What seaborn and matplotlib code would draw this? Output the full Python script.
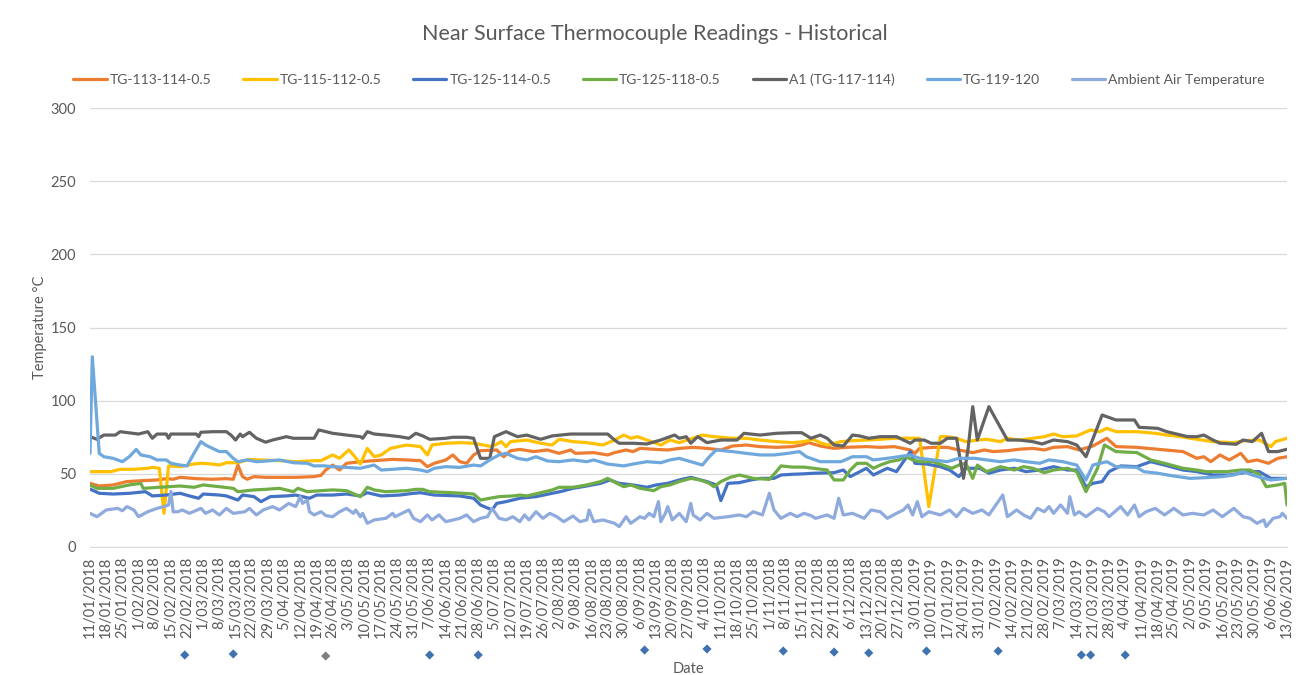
import matplotlib
matplotlib.use("Agg")
import matplotlib.pyplot as plt
import pandas as pd
import seaborn as sns

start_date = pd.Timestamp("2018-01-11")
end_date = pd.Timestamp("2019-06-13")

series_names = ["TG-113-114-0.5", "TG-115-112-0.5", "TG-125-114-0.5", "TG-125-118-0.5",
                "A1 (TG-117-114)", "TG-119-120", "Ambient Air Temperature"]
series_colors = ["#ED7D31", "#FFC000", "#4472C4", "#70AD47", "#636363", "#6FA8DC", "#8FAADC"]

# (days since 11/01/2018, temperature degC)
tg_113_114 = [(0, 43.5), (4, 41.7), (10, 42.4), (16, 44.7), (22, 45.3), (29, 45.8), (33, 46.7), (36, 46.3),
              (39, 47.6), (46, 46.7), (53, 46.3), (59, 46.7), (62, 46.3), (64, 56.0), (66, 48.1), (68, 46.3),
              (71, 48.1), (76, 47.6), (82, 47.6), (89, 47.6), (97, 48.1), (100, 49.0), (102, 52.6), (105, 56.0),
              (108, 52.6), (111, 57.2), (117, 58.3), (123, 59.0), (131, 59.9), (137, 59.5), (143, 59.0),
              (146, 54.9), (149, 57.2), (154, 59.5), (157, 62.9), (160, 58.3), (163, 57.2), (166, 62.9),
              (169, 65.8), (176, 66.3), (179, 61.7), (182, 65.8), (186, 66.7), (192, 65.2), (198, 66.3),
              (203, 64.0), (208, 66.3), (210, 64.0), (218, 64.5), (224, 62.9), (227, 64.5), (232, 66.3),
              (235, 65.2), (238, 67.4), (244, 66.8), (250, 66.3), (255, 67.4), (261, 68.1), (267, 67.4),
              (273, 66.3), (278, 69.0), (284, 69.7), (290, 68.6), (297, 68.1), (304, 68.6), (308, 69.7),
              (311, 71.3), (316, 69.0), (322, 67.4), (327, 68.1), (336, 68.6), (342, 68.1), (348, 68.6),
              (355, 66.3), (357, 64.0), (359, 67.4), (365, 68.1), (371, 68.1), (376, 66.3), (382, 64.5),
              (387, 66.3), (391, 65.2), (397, 65.8), (402, 66.8), (408, 67.4), (413, 66.3), (417, 68.1),
              (423, 68.6), (428, 66.3), (434, 69.0), (440, 74.3), (444, 68.6), (453, 68.1), (462, 66.8),
              (473, 65.2), (479, 60.6), (482, 61.7), (485, 58.3), (489, 62.9), (493, 59.5), (498, 64.0),
              (501, 58.3), (505, 59.5), (510, 57.2), (514, 60.6), (518, 61.7)]

tg_115_112 = [(0, 51.5), (9, 51.5), (13, 53.1), (19, 53.1), (25, 53.8), (27, 54.4), (30, 53.8), (32, 23.0),
              (34, 55.4), (39, 54.9), (45, 56.7), (48, 57.2), (53, 56.7), (56, 56.0), (59, 57.6), (64, 57.6),
              (69, 59.9), (73, 59.5), (82, 59.0), (89, 58.3), (97, 59.0), (100, 59.0), (102, 60.6), (105, 62.9),
              (108, 60.6), (112, 66.3), (114, 62.9), (117, 56.7), (120, 67.4), (123, 61.7), (126, 62.9),
              (130, 67.4), (137, 69.7), (143, 68.6), (146, 62.9), (148, 69.7), (154, 70.9), (160, 71.3),
              (166, 70.9), (174, 68.6), (178, 72.0), (180, 68.6), (182, 72.0), (189, 73.1), (195, 70.9),
              (200, 69.7), (203, 73.6), (209, 72.0), (215, 71.3), (222, 69.7), (227, 73.1), (231, 76.5),
              (234, 74.3), (237, 75.4), (241, 73.1), (247, 69.7), (251, 73.1), (255, 71.3), (265, 76.5),
              (270, 75.4), (278, 74.3), (284, 74.3), (290, 73.1), (297, 72.0), (304, 71.3), (309, 72.0),
              (313, 73.6), (316, 71.3), (319, 69.7), (325, 72.0), (330, 72.7), (336, 73.1), (342, 73.6),
              (348, 74.3), (353, 74.3), (359, 74.3), (363, 27.6), (368, 75.4), (371, 75.4), (375, 74.3),
              (379, 72.0), (384, 73.1), (388, 73.6), (394, 72.0), (397, 74.3), (402, 73.1), (408, 74.3),
              (413, 75.4), (417, 77.2), (421, 75.4), (427, 75.9), (433, 80.0), (437, 78.8), (440, 81.1),
              (444, 78.8), (453, 78.8), (461, 77.7), (466, 76.5), (472, 75.4), (479, 73.6), (486, 72.0),
              (495, 71.3), (500, 72.7), (506, 73.1), (511, 68.6), (513, 72.0), (518, 74.3)]

tg_125_114 = [(0, 39.6), (4, 36.7), (10, 36.2), (17, 36.7), (24, 37.8), (27, 34.9), (33, 35.5), (39, 36.7),
              (43, 34.9), (47, 33.3), (49, 36.2), (56, 35.5), (59, 34.9), (64, 32.1), (66, 35.5), (71, 34.4),
              (74, 31.0), (78, 34.4), (85, 34.9), (89, 35.5), (95, 33.3), (98, 35.5), (105, 35.5), (111, 36.2),
              (117, 34.9), (120, 37.1), (126, 34.9), (134, 35.5), (140, 36.7), (143, 37.1), (149, 35.5),
              (160, 34.9), (166, 33.3), (169, 28.7), (174, 25.3), (176, 29.8), (180, 31.0), (186, 33.3),
              (193, 34.4), (200, 36.7), (204, 38.0), (209, 40.1), (215, 41.7), (221, 43.5), (225, 45.8),
              (229, 43.5), (235, 42.4), (241, 40.8), (245, 42.4), (250, 43.5), (255, 45.8), (260, 47.6),
              (267, 44.7), (271, 42.4), (273, 31.7), (276, 43.5), (281, 44.0), (286, 45.8), (290, 46.9),
              (296, 46.9), (299, 49.2), (304, 49.7), (309, 50.0), (313, 50.4), (322, 50.8), (326, 52.6),
              (329, 48.1), (336, 53.8), (339, 49.2), (345, 53.8), (349, 51.5), (355, 65.2), (357, 57.2),
              (362, 56.7), (368, 54.9), (372, 52.6), (376, 48.1), (379, 53.8), (385, 53.8), (389, 50.4),
              (394, 52.6), (400, 53.8), (405, 51.5), (411, 52.6), (417, 54.9), (423, 52.6), (427, 52.6),
              (431, 41.2), (434, 43.5), (438, 44.7), (441, 51.5), (446, 55.4), (453, 54.9), (459, 58.3),
              (465, 56.0), (473, 52.6), (479, 51.5), (486, 49.2), (493, 49.2), (498, 50.4), (502, 51.5),
              (506, 51.5), (511, 46.9), (518, 46.9)]

tg_125_118 = [(0, 42.4), (3, 40.1), (10, 40.1), (17, 42.4), (22, 43.5), (23, 40.1), (30, 40.8), (39, 41.7),
              (45, 40.8), (49, 42.4), (56, 41.2), (62, 40.1), (64, 37.8), (71, 39.0), (76, 39.4), (82, 40.1),
              (88, 37.8), (90, 40.1), (94, 37.8), (100, 38.5), (105, 39.0), (111, 38.5), (117, 34.4),
              (120, 40.8), (123, 39.0), (128, 37.8), (137, 38.5), (141, 39.4), (144, 39.4), (147, 37.8),
              (157, 37.1), (166, 36.2), (169, 32.1), (173, 33.3), (177, 34.4), (183, 34.9), (186, 35.5),
              (189, 34.9), (194, 36.7), (200, 39.0), (203, 40.8), (209, 40.8), (215, 42.4), (221, 44.7),
              (224, 46.9), (228, 43.5), (231, 41.2), (234, 42.4), (238, 40.1), (244, 38.5), (247, 41.2),
              (251, 42.4), (255, 44.7), (260, 46.9), (264, 45.8), (268, 43.5), (270, 41.2), (273, 44.7),
              (277, 47.6), (281, 49.2), (287, 46.9), (294, 46.2), (297, 51.5), (299, 55.4), (304, 54.6),
              (309, 54.6), (313, 53.8), (319, 52.6), (322, 45.8), (326, 45.8), (329, 52.6), (332, 57.2),
              (336, 57.2), (339, 53.8), (342, 56.0), (346, 58.3), (350, 59.5), (353, 61.7), (356, 59.5),
              (359, 58.3), (365, 58.3), (369, 56.0), (373, 53.8), (376, 56.0), (379, 57.2), (382, 46.9),
              (384, 56.0), (388, 51.5), (394, 54.9), (400, 52.6), (404, 54.9), (408, 53.8), (413, 50.8),
              (417, 52.6), (423, 53.8), (427, 51.5), (431, 37.8), (436, 53.8), (439, 69.7), (444, 65.2),
              (453, 64.5), (459, 59.5), (465, 57.2), (473, 53.8), (479, 52.6), (483, 51.5), (492, 51.5),
              (498, 52.6), (502, 52.6), (506, 49.7), (509, 41.2), (514, 42.4), (517, 43.5), (518, 28.7)]

a1_117_114 = [(0, 75.4), (3, 73.6), (6, 76.5), (11, 76.5), (13, 78.8), (21, 77.2), (25, 78.8), (27, 74.3),
              (29, 77.2), (33, 77.2), (34, 74.3), (35, 77.2), (46, 77.2), (47, 75.4), (48, 78.4), (53, 78.8),
              (59, 78.8), (61, 76.5), (63, 73.1), (65, 77.2), (66, 75.4), (69, 78.4), (72, 74.3), (76, 71.6),
              (79, 73.1), (85, 75.4), (88, 74.3), (97, 74.3), (99, 80.0), (105, 77.7), (111, 76.5), (117, 75.4),
              (118, 74.3), (120, 78.8), (123, 77.2), (128, 76.5), (134, 75.4), (138, 74.3), (141, 77.7),
              (144, 75.9), (147, 73.6), (154, 74.3), (157, 75.0), (163, 75.0), (166, 74.3), (169, 60.6),
              (173, 60.6), (175, 75.4), (180, 78.8), (185, 75.4), (189, 76.5), (195, 73.6), (200, 75.9),
              (208, 77.2), (215, 77.2), (224, 77.2), (227, 73.1), (229, 70.9), (235, 70.9), (241, 70.4),
              (247, 73.1), (251, 75.4), (253, 76.5), (255, 74.3), (258, 75.4), (260, 70.9), (263, 75.4),
              (267, 71.3), (273, 73.1), (280, 73.1), (283, 77.7), (290, 76.5), (297, 77.7), (304, 78.1),
              (308, 78.1), (312, 74.3), (316, 76.5), (319, 74.3), (322, 69.7), (326, 69.0), (330, 76.5),
              (333, 75.9), (337, 74.3), (342, 75.4), (349, 75.4), (352, 73.1), (355, 70.9), (357, 73.1),
              (361, 73.1), (364, 70.9), (368, 70.9), (371, 74.3), (375, 74.3), (378, 46.9), (380, 67.4),
              (382, 95.9), (384, 73.1), (389, 95.9), (397, 73.1), (402, 73.1), (408, 72.0), (412, 70.4),
              (417, 73.1), (423, 72.0), (427, 69.7), (431, 61.7), (438, 90.2), (444, 86.8), (452, 86.8),
              (454, 81.8), (462, 81.1), (466, 78.8), (475, 75.4), (479, 75.4), (482, 76.5), (486, 73.1),
              (489, 70.9), (496, 70.2), (499, 73.1), (503, 72.0), (507, 77.7), (510, 65.2), (514, 65.2),
              (518, 66.8)]

tg_119_120 = [(0, 64.0), (1, 130.0), (4, 64.0), (6, 61.7), (10, 60.6), (14, 58.3), (17, 61.7), (20, 66.7),
              (22, 62.9), (26, 61.7), (29, 59.5), (33, 59.5), (35, 57.2), (39, 56.0), (42, 55.4), (45, 64.0),
              (48, 72.0), (50, 69.7), (53, 67.4), (56, 65.2), (59, 65.2), (62, 60.6), (64, 58.3), (68, 59.5),
              (72, 58.3), (76, 58.7), (82, 59.5), (88, 57.6), (94, 57.2), (97, 55.4), (101, 55.5), (105, 54.9),
              (111, 54.4), (117, 53.8), (123, 56.0), (126, 52.6), (131, 53.1), (137, 53.8), (143, 52.6),
              (146, 51.5), (149, 53.8), (154, 54.9), (160, 54.4), (166, 56.0), (169, 55.4), (173, 59.5),
              (177, 62.9), (180, 64.0), (185, 60.6), (189, 59.5), (193, 61.7), (198, 58.8), (203, 58.3),
              (209, 59.5), (215, 58.3), (218, 59.5), (224, 56.7), (231, 55.4), (235, 56.7), (241, 58.3),
              (247, 57.6), (251, 59.5), (255, 60.6), (260, 58.3), (265, 56.0), (268, 61.7), (271, 66.3),
              (278, 65.2), (284, 64.0), (290, 62.9), (296, 62.9), (302, 64.0), (307, 65.2), (310, 61.7),
              (316, 58.3), (325, 58.3), (330, 61.7), (336, 61.7), (339, 59.5), (345, 60.6), (350, 61.7),
              (355, 62.9), (359, 60.6), (365, 59.5), (371, 58.3), (376, 60.6), (383, 60.6), (388, 59.5),
              (394, 58.3), (400, 59.5), (405, 58.3), (411, 57.2), (415, 59.5), (421, 58.3), (427, 56.0),
              (431, 45.8), (434, 56.0), (440, 58.3), (444, 54.9), (453, 54.4), (456, 51.5), (462, 50.4),
              (469, 48.5), (476, 46.9), (483, 47.4), (490, 48.1), (495, 49.2), (499, 51.5), (503, 49.2),
              (508, 46.9), (511, 45.8), (518, 46.9)]

ambient_air = [(0, 23.0), (3, 20.7), (7, 25.3), (12, 26.4), (14, 24.8), (16, 27.6), (19, 25.3), (21, 20.7),
               (25, 24.1), (29, 26.4), (32, 27.6), (34, 28.7), (35, 38.0), (36, 24.0), (38, 24.1), (40, 25.3),
               (43, 23.0), (48, 26.4), (50, 23.0), (53, 25.3), (56, 21.9), (59, 26.4), (62, 23.0), (67, 24.1),
               (69, 26.4), (72, 21.9), (75, 25.3), (79, 27.6), (82, 25.3), (86, 29.8), (89, 27.6), (91, 34.4),
               (92, 29.8), (94, 32.1), (95, 24.1), (97, 21.9), (100, 24.1), (102, 21.5), (105, 20.7),
               (108, 24.1), (111, 26.4), (114, 23.0), (115, 25.3), (117, 20.7), (118, 23.0), (120, 16.2),
               (123, 18.5), (128, 19.6), (131, 23.0), (132, 20.7), (138, 25.3), (140, 19.6), (143, 17.3),
               (146, 21.9), (148, 18.5), (151, 21.9), (154, 17.3), (160, 19.6), (163, 21.9), (166, 17.3),
               (169, 19.6), (172, 20.7), (174, 26.4), (177, 19.6), (180, 18.5), (183, 20.7), (186, 17.3),
               (188, 21.9), (190, 18.5), (193, 24.1), (196, 19.6), (199, 23.0), (202, 20.7), (205, 17.3),
               (209, 21.2), (212, 17.3), (215, 18.5), (216, 25.3), (218, 17.3), (222, 18.5), (227, 16.2),
               (229, 13.9), (232, 20.7), (234, 16.2), (238, 20.7), (240, 19.6), (242, 23.0), (244, 20.7),
               (246, 31.0), (247, 17.3), (249, 23.0), (250, 27.6), (252, 18.5), (255, 23.0), (258, 17.3),
               (260, 29.8), (261, 21.9), (264, 18.5), (267, 23.0), (270, 19.6), (276, 20.7), (281, 21.9),
               (284, 20.7), (287, 24.1), (291, 21.9), (294, 36.7), (296, 25.3), (299, 19.6), (303, 23.0),
               (306, 20.7), (309, 23.0), (312, 21.5), (314, 19.6), (319, 21.9), (322, 19.6), (324, 33.3),
               (326, 21.9), (330, 23.0), (335, 19.6), (338, 25.3), (342, 24.1), (345, 19.6), (349, 23.0),
               (352, 25.3), (354, 28.7), (356, 21.9), (358, 31.0), (360, 20.7), (363, 24.1), (368, 21.9),
               (372, 25.3), (375, 20.7), (378, 26.4), (382, 23.0), (386, 25.3), (389, 21.9), (393, 31.0),
               (395, 35.5), (397, 20.7), (401, 25.3), (404, 21.9), (407, 19.6), (410, 26.4), (413, 24.1),
               (415, 27.6), (417, 23.0), (420, 28.7), (423, 23.0), (424, 34.4), (426, 21.9), (428, 24.1),
               (431, 20.7), (436, 26.4), (439, 24.1), (441, 20.7), (446, 27.6), (449, 21.9), (452, 28.7),
               (454, 20.7), (457, 24.1), (461, 26.4), (465, 21.9), (469, 26.4), (473, 21.9), (477, 23.0),
               (482, 21.9), (486, 25.3), (490, 20.7), (495, 26.4), (499, 20.7), (502, 19.6), (505, 16.2),
               (508, 18.5), (509, 13.9), (512, 19.6), (515, 20.7), (516, 23.0), (518, 19.6)]

# event markers below the axis (days since 11/01/2018, level)
event_days = [41, 62, 102, 147, 168, 240, 267, 300, 322, 337, 362, 393, 429, 433, 448]
event_levels = [-73.8, -73.1, -74.5, -73.8, -73.8, -70.4, -69.7, -71.1, -71.8, -72.4, -71.1, -71.1,
                -73.8, -73.8, -73.8]
event_colors = ["#3F72AF", "#3F72AF", "#7F7F7F", "#3F72AF", "#3F72AF", "#3F72AF", "#3F72AF", "#3F72AF",
                "#3F72AF", "#3F72AF", "#3F72AF", "#3F72AF", "#3F72AF", "#3F72AF", "#3F72AF"]

all_series = [tg_113_114, tg_115_112, tg_125_114, tg_125_118, a1_117_114, tg_119_120, ambient_air]

rows = []
for name, pts in zip(series_names, all_series):
    for d, v in pts:
        rows.append({"date": start_date + pd.Timedelta(days=d), "temp": v, "series": name})
df = pd.DataFrame(rows)

sns.set_style("white")
plt.rcParams["font.family"] = ["Lato", "DejaVu Sans"]

text_col = "#595959"
fig = plt.figure(figsize=(13.05, 6.75), dpi=100)
ax = fig.add_axes([90 / 1305, 1 - 547 / 675, 1197 / 1305, 439 / 675])

sns.lineplot(data=df, x="date", y="temp", hue="series", hue_order=series_names,
             palette=dict(zip(series_names, series_colors)), estimator=None, sort=False,
             linewidth=2.3, ax=ax)

event_dates = [start_date + pd.Timedelta(days=d) for d in event_days]
ax.scatter(event_dates, event_levels, marker="D", s=22, c=event_colors, clip_on=False, zorder=5,
           linewidths=0)

ax.set_ylim(0, 300)
ax.set_yticks(range(0, 301, 50))
ax.set_xlim(start_date, end_date)
weeks = pd.date_range(start_date, end_date, freq="7D")
ax.set_xticks(weeks)
ax.set_xticklabels([f"{d.day}/{d.month:02d}/{d.year}" for d in weeks], rotation=90,
                   fontsize=10.5, color=text_col)
ax.tick_params(axis="x", length=5, width=0.8, color="#bfbfbf", pad=2)
ax.tick_params(axis="y", length=0, pad=10, labelsize=10.5, labelcolor=text_col)

ax.grid(axis="y", color="#d9d9d9", linewidth=0.9)
ax.set_axisbelow(True)
for side in ["top", "right", "left"]:
    ax.spines[side].set_visible(False)
ax.spines["bottom"].set_color("#d9d9d9")

ax.set_ylabel("Temperature °C", fontsize=10.5, color=text_col)
ax.yaxis.set_label_coords(-0.036, 0.5)
ax.set_xlabel("Date", fontsize=10.5, color=text_col)
ax.xaxis.set_label_coords(0.5, -0.262)

fig.text(0.502, 1 - 34 / 675, "Near Surface Thermocouple Readings - Historical", ha="center", va="center",
         fontsize=15.5, color=text_col)

handles, labels = ax.get_legend_handles_labels()
ax.get_legend().remove()
fig.legend(handles, labels, loc="center", bbox_to_anchor=(0.5126, 1 - 80 / 675), ncol=7, frameon=False,
           fontsize=10, handlelength=2.4, handletextpad=0.2, columnspacing=2.3, labelcolor=text_col)

fig.savefig("out.png", dpi=100)
